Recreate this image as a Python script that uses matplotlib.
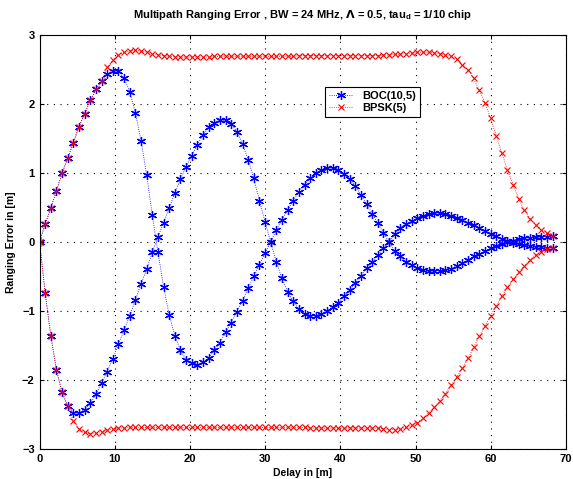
import numpy as np
import matplotlib
matplotlib.use('Agg')
import matplotlib.pyplot as plt

plt.rcParams['font.family'] = ['Liberation Sans', 'DejaVu Sans']
plt.rcParams['font.weight'] = 'bold'

# delay grid (m), 92 samples
delay = np.linspace(0, 68.2, 92)

# BOC(10,5) envelope, branch that dips first
boc_a = [0.00, -0.74, -1.36, -1.86, -2.18, -2.38, -2.48, -2.48, -2.43, -2.34,
         -2.21, -2.05, -1.88, -1.70, -1.48, -1.28, -1.07, -0.84, -0.61, -0.40,
         -0.15, 0.07, 0.28, 0.49, 0.71, 0.91, 1.09, 1.25, 1.41, 1.55,
         1.66, 1.73, 1.77, 1.76, 1.71, 1.60, 1.42, 1.19, 0.92, 0.60,
         0.29, 0.00, -0.29, -0.53, -0.72, -0.86, -0.98, -1.04, -1.07, -1.07,
         -1.05, -1.00, -0.94, -0.88, -0.79, -0.70, -0.60, -0.49, -0.38, -0.29,
         -0.19, -0.09, 0.00, 0.12, 0.20, 0.26, 0.30, 0.34, 0.38, 0.40,
         0.415, 0.415, 0.40, 0.38, 0.35, 0.32, 0.28, 0.24, 0.20, 0.16,
         0.12, 0.08, 0.04, 0.01, -0.015, -0.035, -0.05, -0.06, -0.07, -0.08,
         -0.085, -0.09]

# BOC(10,5) envelope, branch that rises first
boc_b = [0.00, 0.26, 0.49, 0.74, 1.00, 1.21, 1.44, 1.67, 1.86, 2.05,
         2.21, 2.33, 2.43, 2.48, 2.48, 2.37, 2.18, 1.87, 1.47, 0.97,
         0.39, -0.15, -0.65, -1.06, -1.36, -1.57, -1.71, -1.76, -1.78, -1.74,
         -1.69, -1.57, -1.46, -1.31, -1.17, -1.01, -0.85, -0.67, -0.50, -0.33,
         -0.16, 0.00, 0.17, 0.32, 0.46, 0.60, 0.73, 0.83, 0.92, 1.00,
         1.04, 1.07, 1.07, 1.04, 0.99, 0.91, 0.81, 0.68, 0.55, 0.41,
         0.27, 0.13, 0.00, -0.13, -0.21, -0.29, -0.33, -0.38, -0.41, -0.42,
         -0.415, -0.415, -0.41, -0.39, -0.35, -0.31, -0.26, -0.21, -0.17, -0.13,
         -0.09, -0.055, -0.025, 0.00, 0.02, 0.035, 0.05, 0.06, 0.07, 0.075,
         0.078, 0.08]

# BPSK(5) envelope, upper branch
bpsk_up = [0.00, 0.26, 0.49, 0.74, 1.00, 1.21, 1.44, 1.67, 1.86, 2.05,
           2.21, 2.33, 2.53, 2.64, 2.71, 2.75, 2.77, 2.78, 2.77, 2.75,
           2.73, 2.71, 2.70, 2.69, 2.68, 2.68, 2.68, 2.68, 2.68, 2.68,
           2.68, 2.69, 2.69, 2.69, 2.69, 2.69, 2.69, 2.69, 2.69, 2.69,
           2.69, 2.69, 2.69, 2.69, 2.69, 2.69, 2.70, 2.70, 2.70, 2.70,
           2.70, 2.70, 2.70, 2.70, 2.70, 2.70, 2.70, 2.70, 2.70, 2.70,
           2.70, 2.71, 2.71, 2.72, 2.72, 2.73, 2.74, 2.75, 2.75, 2.75,
           2.74, 2.73, 2.71, 2.69, 2.65, 2.57, 2.49, 2.37, 2.20, 2.02,
           1.79, 1.54, 1.29, 1.04, 0.83, 0.62, 0.46, 0.33, 0.25, 0.17,
           0.13, 0.09]

# BPSK(5) envelope, lower branch
bpsk_lo = [0.00, -0.74, -1.36, -1.86, -2.18, -2.38, -2.60, -2.71, -2.76, -2.78,
           -2.77, -2.75, -2.73, -2.71, -2.70, -2.70, -2.69, -2.69, -2.69, -2.69,
           -2.69, -2.69, -2.69, -2.69, -2.69, -2.69, -2.69, -2.69, -2.69, -2.69,
           -2.69, -2.69, -2.69, -2.69, -2.69, -2.69, -2.69, -2.69, -2.69, -2.69,
           -2.69, -2.69, -2.69, -2.69, -2.69, -2.69, -2.69, -2.69, -2.70, -2.70,
           -2.70, -2.70, -2.70, -2.70, -2.70, -2.70, -2.70, -2.70, -2.70, -2.70,
           -2.70, -2.71, -2.72, -2.72, -2.71, -2.69, -2.66, -2.62, -2.56, -2.48,
           -2.40, -2.30, -2.20, -2.08, -1.96, -1.83, -1.69, -1.53, -1.37, -1.22,
           -1.07, -0.93, -0.79, -0.66, -0.54, -0.44, -0.35, -0.26, -0.19, -0.14,
           -0.11, -0.09]

fig = plt.figure(figsize=(5.73, 4.79), dpi=100)
ax = fig.add_axes([0.069, 0.063, 0.919, 0.864])

# MATLAB-like asterisk and cross markers joined by a dotted line
boc_style = dict(color='b', linestyle=':', linewidth=0.6, marker=(6, 2, 0),
                 markersize=6.5, markeredgewidth=0.9)
bpsk_style = dict(color='r', linestyle=':', linewidth=0.6, marker='x',
                  markersize=4, markeredgewidth=0.8)

ax.plot(delay, boc_a, label='BOC(10,5)', **boc_style)
ax.plot(delay, boc_b, **boc_style)
ax.plot(delay, bpsk_up, label='BPSK(5)', **bpsk_style)
ax.plot(delay, bpsk_lo, **bpsk_style)

ax.set_xlim(0, 70)
ax.set_ylim(-3, 3)
ax.set_xticks(range(0, 71, 10))
ax.set_yticks(range(-3, 4))
ax.grid(True, color='k', linestyle=(0, (1, 5)), linewidth=0.8)
ax.tick_params(direction='in', top=True, right=True, labelsize=8, length=3)

ax.set_title('Multipath Ranging Error , BW = 24 MHz, $\\Lambda$ = 0.5, tau$_\\mathregular{d}$ = 1/10 chip',
             fontsize=8, fontweight='bold', pad=12)
ax.set_xlabel('Delay in [m]', fontsize=7.5, fontweight='bold', labelpad=3)
ax.set_ylabel('Ranging Error in [m]', fontsize=7.5, fontweight='bold', labelpad=4)

leg = ax.legend(loc='upper left', bbox_to_anchor=(0.542, 0.874), borderaxespad=0,
                fontsize=8, fancybox=False, edgecolor='k', framealpha=1,
                handlelength=2.2, borderpad=0.35, labelspacing=0.2)
leg.get_frame().set_linewidth(0.8)

plt.savefig('out.png', dpi=100)
